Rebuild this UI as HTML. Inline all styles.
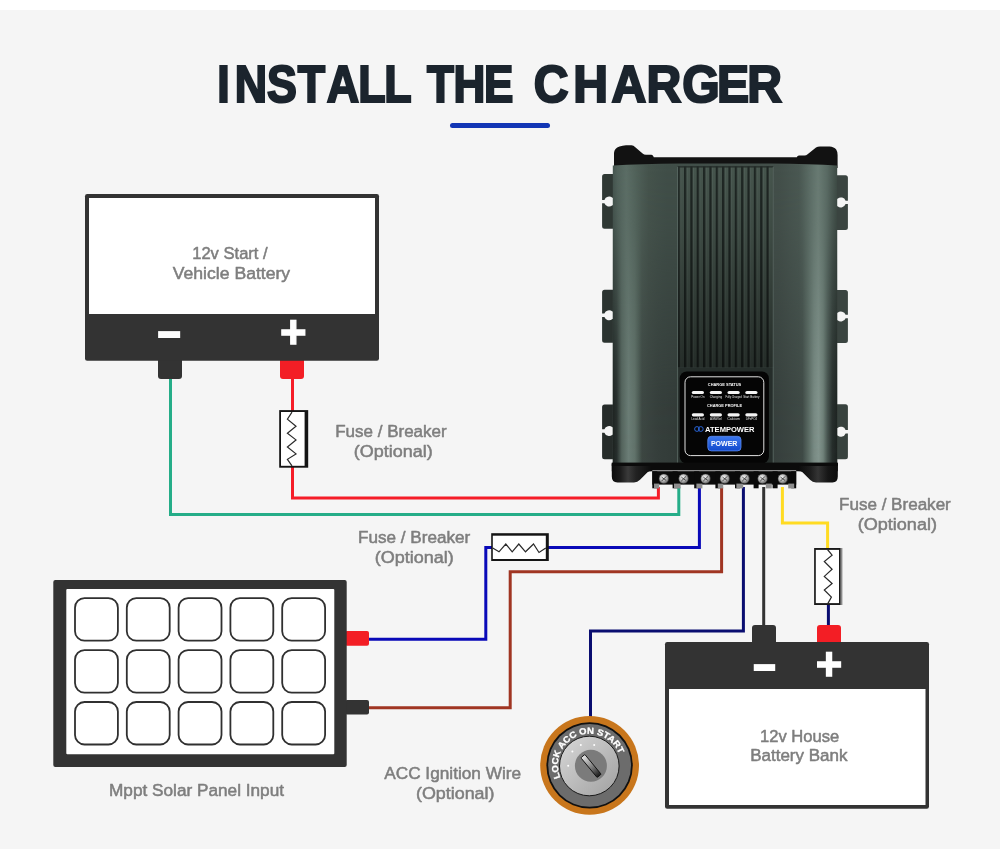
<!DOCTYPE html>
<html lang="en">
<head>
<meta charset="utf-8">
<title>Install the Charger</title>
<style>
html,body{margin:0;padding:0;background:#fff;}
body{width:1000px;height:850px;overflow:hidden;font-family:"Liberation Sans",sans-serif;}
svg{display:block;will-change:transform;}
.lbl{font-family:"Liberation Sans",sans-serif;font-size:16.3px;fill:#7e7e7e;stroke:#7e7e7e;stroke-width:0.5;stroke-linejoin:round;}
.ttl{font-family:"Liberation Sans",sans-serif;font-weight:bold;font-size:51.8px;fill:#1b242d;stroke:#1b242d;stroke-width:2.2;stroke-linejoin:miter;stroke-miterlimit:2.5;}
.sym{font-family:"Liberation Sans",sans-serif;font-weight:bold;fill:#fff;stroke:#fff;stroke-linejoin:miter;}
.w{fill:none;stroke-width:3;stroke-linejoin:miter;}
</style>
</head>
<body>
<svg width="1000" height="850" viewBox="0 0 1000 850">
<defs>
<linearGradient id="bodyH" x1="612.8" y1="0" x2="837.2" y2="0" gradientUnits="userSpaceOnUse">
<stop offset="0" stop-color="#465650"/>
<stop offset="0.02" stop-color="#51625b"/>
<stop offset="0.06" stop-color="#5b6d65"/>
<stop offset="0.1" stop-color="#51625a"/>
<stop offset="0.16" stop-color="#45534c"/>
<stop offset="0.24" stop-color="#404e48"/>
<stop offset="0.74" stop-color="#434f4a"/>
<stop offset="0.83" stop-color="#4a5852"/>
<stop offset="0.875" stop-color="#5a6b64"/>
<stop offset="0.915" stop-color="#687a72"/>
<stop offset="0.955" stop-color="#596a63"/>
<stop offset="1" stop-color="#3e4b45"/>
</linearGradient>
<linearGradient id="bodyH2" x1="612.8" y1="0" x2="837.2" y2="0" gradientUnits="userSpaceOnUse">
<stop offset="0" stop-color="#1c2220"/>
<stop offset="0.018" stop-color="#262d2b"/>
<stop offset="0.04" stop-color="#54645d"/>
<stop offset="0.07" stop-color="#6b7d76"/>
<stop offset="0.098" stop-color="#61726a"/>
<stop offset="0.115" stop-color="#4d5c55"/>
<stop offset="0.13" stop-color="#3c4642"/>
<stop offset="0.2" stop-color="#353e3b"/>
<stop offset="0.28" stop-color="#323b38"/>
<stop offset="0.72" stop-color="#363f3c"/>
<stop offset="0.845" stop-color="#3e4945"/>
<stop offset="0.872" stop-color="#5a6a63"/>
<stop offset="0.897" stop-color="#788a83"/>
<stop offset="0.917" stop-color="#82948d"/>
<stop offset="0.937" stop-color="#70827a"/>
<stop offset="0.957" stop-color="#46534e"/>
<stop offset="0.978" stop-color="#262d2b"/>
<stop offset="1" stop-color="#1c2220"/>
</linearGradient>
<linearGradient id="fadeV" x1="0" y1="164.5" x2="0" y2="464.5" gradientUnits="userSpaceOnUse">
<stop offset="0" stop-color="#fff" stop-opacity="0"/>
<stop offset="0.2" stop-color="#fff" stop-opacity="0.12"/>
<stop offset="0.5" stop-color="#fff" stop-opacity="0.55"/>
<stop offset="0.8" stop-color="#fff" stop-opacity="0.95"/>
<stop offset="1" stop-color="#fff" stop-opacity="1"/>
</linearGradient>
<mask id="mFade" maskUnits="userSpaceOnUse" x="590" y="140" width="270" height="360">
<rect x="590" y="140" width="270" height="360" fill="url(#fadeV)"/>
</mask>
<linearGradient id="ribV" x1="0" y1="164.5" x2="0" y2="368" gradientUnits="userSpaceOnUse">
<stop offset="0" stop-color="#000" stop-opacity="0"/>
<stop offset="0.35" stop-color="#000" stop-opacity="0.14"/>
<stop offset="1" stop-color="#000" stop-opacity="0.48"/>
</linearGradient>
<pattern id="ribs" x="677.6" y="0" width="6.35" height="10" patternUnits="userSpaceOnUse">
<rect x="0" y="0" width="6.35" height="10" fill="#46554d"/>
<rect x="0" y="0" width="2.5" height="10" fill="#1f2724"/>
<rect x="2.5" y="0" width="0.8" height="10" fill="#54645c"/>
</pattern>
<linearGradient id="footL" x1="612" y1="0" x2="652" y2="0" gradientUnits="userSpaceOnUse">
<stop offset="0" stop-color="#0c0c0c"/>
<stop offset="0.2" stop-color="#1a1a1a"/>
<stop offset="0.4" stop-color="#3a3a3a"/>
<stop offset="0.6" stop-color="#222"/>
<stop offset="1" stop-color="#0a0a0a"/>
</linearGradient>
<linearGradient id="footR" x1="838" y1="0" x2="798" y2="0" gradientUnits="userSpaceOnUse">
<stop offset="0" stop-color="#0c0c0c"/>
<stop offset="0.25" stop-color="#161616"/>
<stop offset="0.5" stop-color="#343434"/>
<stop offset="0.7" stop-color="#1c1c1c"/>
<stop offset="1" stop-color="#0a0a0a"/>
</linearGradient>
<linearGradient id="pbtn" x1="0" y1="0" x2="0" y2="1">
<stop offset="0" stop-color="#3d78ee"/>
<stop offset="1" stop-color="#1048cc"/>
</linearGradient>
<radialGradient id="screw" cx="0.4" cy="0.35" r="0.7">
<stop offset="0" stop-color="#f4f4f4"/>
<stop offset="0.55" stop-color="#b0b0b0"/>
<stop offset="1" stop-color="#555"/>
</radialGradient>
<linearGradient id="ignIn" x1="0" y1="0" x2="1" y2="1">
<stop offset="0" stop-color="#d8d8d8"/>
<stop offset="1" stop-color="#a0a0a0"/>
</linearGradient>
<linearGradient id="keyG" x1="0" y1="0" x2="0" y2="1">
<stop offset="0" stop-color="#e6e6e6"/>
<stop offset="0.5" stop-color="#888"/>
<stop offset="1" stop-color="#1a1a1a"/>
</linearGradient>
<path id="ignArc" d="M560.41,777.69 A31.6,31.6 0 1 1 619.10,754.28"/>
</defs>
<rect x="0" y="0" width="1000" height="850" fill="#fff"/>
<rect x="0" y="10" width="1000" height="839" fill="#f5f5f5"/>
<g id="title">
<text class="ttl" transform="scale(0.865,1)" y="102" x="251.05 271.48 308.63 344.28 377.78 414.06 444.34">INSTALL</text>
<text class="ttl" transform="scale(0.85,1)" y="102" x="502.23 533.58 569.31">THE</text>
<text class="ttl" transform="scale(0.93,1)" y="102" x="573.95 616.52 657.46 695.15 733.64 770.85 803.51">CHARGER</text>
<rect x="450" y="123" width="100" height="5" rx="2.5" fill="#1236b5"/>
</g>
<g id="wires">
<path class="w" stroke="#25ad88" d="M170.5,378 V514.5 H678.8 V487"/>
<path class="w" stroke="#f51d28" d="M292.5,378 V412 M292.5,466 V498 H658.4 V487"/>
<path class="w" stroke="#0909b8" d="M367,639.3 H485.8 V547.5 H493 M547,547.5 H699.4 V487"/>
<path class="w" stroke="#a03522" d="M367,707.8 H510.2 V571.8 H721.6 V487"/>
<path class="w" stroke="#090d70" d="M590.5,720 V631 H743.4 V487"/>
<path class="w" stroke="#333" d="M763.7,487 V626"/>
<path class="w" stroke="#ffdb22" d="M782.4,487 V523 H827.6 V549"/>
<path class="w" stroke="#090d70" d="M828.4,604 V626"/>
</g>
<g id="bat1">
<rect x="158" y="355" width="24" height="24" rx="3" fill="#333"/>
<rect x="280" y="355" width="24" height="24" rx="3" fill="#f31e25"/>
<rect x="85" y="194" width="294" height="166.8" rx="2.2" fill="#333"/>
<rect x="89" y="198" width="286" height="116" fill="#fff"/>
<text class="sym" transform="translate(169.2,335.1) scale(1.518,1)" x="-9.48" y="14.80" font-size="57.08" stroke-width="0">-</text>
<text class="sym" x="279.88" y="347.73" font-size="45.5" stroke-width="1.3">+</text>
</g>
<g id="bat2">
<rect x="752" y="625" width="24" height="24" rx="3" fill="#333"/>
<rect x="817" y="625" width="24" height="24" rx="3" fill="#f31e25"/>
<rect x="665" y="642" width="264" height="166.8" rx="2.2" fill="#333"/>
<rect x="669" y="689" width="256.5" height="116" fill="#fff"/>
<text class="sym" transform="translate(764.5,667.75) scale(1.455,1)" x="-9.61" y="15.02" font-size="57.91" stroke-width="0">-</text>
<text class="sym" x="815.78" y="680.33" font-size="45.5" stroke-width="1.3">+</text>
</g>
<g id="fuses">
<rect x="279.2" y="410.1" width="29" height="57.6" fill="#151515"/>
<rect x="281" y="412" width="23.6" height="53.8" fill="#fff"/>
<path d="M292,412.1 L287.4,419.2 L296,426.3 L287.4,433.2 L296,439.9 L287.4,447 L296,453.9 L287.4,459.3 L292,465.8" fill="none" stroke="#2a2a2a" stroke-width="1.2" stroke-linejoin="miter"/>
<rect x="491.2" y="533.2" width="57.6" height="27.8" fill="#151515"/>
<rect x="492.8" y="535.7" width="53" height="23.3" fill="#fff"/>
<path d="M492.7,548 L499,551.8 L505.8,544 L512.2,551.8 L518.8,544 L525.5,551.8 L533.5,544 L539,552.5 L545.8,548" fill="none" stroke="#2a2a2a" stroke-width="1.2" stroke-linejoin="miter"/>
<rect x="814.2" y="548" width="28.2" height="57" fill="#8a8a8a"/>
<rect x="814.2" y="548" width="26.2" height="57" fill="#1a1a1a"/>
<rect x="815.8" y="549.9" width="23.2" height="53.2" fill="#fff"/>
<path d="M827.5,549.5 L832.1,555.1 L824.3,561.5 L832.1,569.3 L824.3,576.4 L832.1,583.5 L824.3,590 L831.4,597.1 L827.8,603.6" fill="none" stroke="#2a2a2a" stroke-width="1.2" stroke-linejoin="miter"/>
</g>
<g id="labels">
<text class="lbl" x="335.2" y="437.3" textLength="111.5" lengthAdjust="spacingAndGlyphs">Fuse / Breaker</text>
<text class="lbl" x="353.8" y="456.6" textLength="78.9" lengthAdjust="spacingAndGlyphs">(Optional)</text>
<text class="lbl" x="358.0" y="543.3" textLength="112.2" lengthAdjust="spacingAndGlyphs">Fuse / Breaker</text>
<text class="lbl" x="374.7" y="563.0" textLength="79.0" lengthAdjust="spacingAndGlyphs">(Optional)</text>
<text class="lbl" x="839.0" y="509.8" textLength="111.8" lengthAdjust="spacingAndGlyphs">Fuse / Breaker</text>
<text class="lbl" x="857.7" y="530.0" textLength="79.3" lengthAdjust="spacingAndGlyphs">(Optional)</text>
<text class="lbl" x="384.2" y="779.0" textLength="137.0" lengthAdjust="spacingAndGlyphs">ACC Ignition Wire</text>
<text class="lbl" x="416.0" y="798.5" textLength="78.5" lengthAdjust="spacingAndGlyphs">(Optional)</text>
<text class="lbl" x="109.0" y="796.3" textLength="175.0" lengthAdjust="spacingAndGlyphs">Mppt Solar Panel Input</text>
<text class="lbl" x="192.2" y="259.0" textLength="75.5" lengthAdjust="spacingAndGlyphs">12v Start /</text>
<text class="lbl" x="172.7" y="278.8" textLength="117.5" lengthAdjust="spacingAndGlyphs">Vehicle Battery</text>
<text class="lbl" x="760.0" y="741.7" textLength="79.2" lengthAdjust="spacingAndGlyphs">12v House</text>
<text class="lbl" x="750.2" y="761.2" textLength="97.3" lengthAdjust="spacingAndGlyphs">Battery Bank</text>
</g>
<g id="solar">
<rect x="345" y="631" width="24" height="14.7" rx="2" fill="#f31e25"/>
<rect x="345" y="700" width="24" height="14.6" rx="2" fill="#333"/>
<rect x="53.3" y="580" width="293.4" height="187" rx="2" fill="#333"/>
<rect x="66.3" y="589" width="268" height="165.3" rx="1" fill="#fff"/>
<g fill="#fff" stroke="#303030" stroke-width="1.8">
<rect x="75.0" y="598.2" width="42.9" height="42.5" rx="9.5"/>
<rect x="126.8" y="598.2" width="42.9" height="42.5" rx="9.5"/>
<rect x="178.6" y="598.2" width="42.9" height="42.5" rx="9.5"/>
<rect x="230.4" y="598.2" width="42.9" height="42.5" rx="9.5"/>
<rect x="282.2" y="598.2" width="42.9" height="42.5" rx="9.5"/>
<rect x="75.0" y="650.1" width="42.9" height="42.5" rx="9.5"/>
<rect x="126.8" y="650.1" width="42.9" height="42.5" rx="9.5"/>
<rect x="178.6" y="650.1" width="42.9" height="42.5" rx="9.5"/>
<rect x="230.4" y="650.1" width="42.9" height="42.5" rx="9.5"/>
<rect x="282.2" y="650.1" width="42.9" height="42.5" rx="9.5"/>
<rect x="75.0" y="702.0" width="42.9" height="42.5" rx="9.5"/>
<rect x="126.8" y="702.0" width="42.9" height="42.5" rx="9.5"/>
<rect x="178.6" y="702.0" width="42.9" height="42.5" rx="9.5"/>
<rect x="230.4" y="702.0" width="42.9" height="42.5" rx="9.5"/>
<rect x="282.2" y="702.0" width="42.9" height="42.5" rx="9.5"/>
</g>
</g>
<g id="charger">
<path fill="#2f3834" d="M614.3,174 H604.5999999999999 Q602.0999999999999,174 602.0999999999999,176.5 V199.9 H604.40 A5.0,5.0 0 0 1 612.40,197.85 H614.3 Z M614.3,228.8 H604.5999999999999 Q602.0999999999999,228.8 602.0999999999999,226.3 V203.29999999999998 H604.40 A5.0,5.0 0 0 0 612.40,205.35 H614.3 Z"/>
<path fill="#2b3330" d="M614.3,289.8 H604.5999999999999 Q602.0999999999999,289.8 602.0999999999999,292.3 V313.6 H604.40 A5.0,5.0 0 0 1 612.40,311.55 H614.3 Z M614.3,342.7 H604.5999999999999 Q602.0999999999999,342.7 602.0999999999999,340.2 V317.0 H604.40 A5.0,5.0 0 0 0 612.40,319.05 H614.3 Z"/>
<path fill="#262c2a" d="M614.3,404.4 H604.5999999999999 Q602.0999999999999,404.4 602.0999999999999,406.9 V429.3 H604.40 A5.0,5.0 0 0 1 612.40,427.25 H614.3 Z M614.3,459.2 H604.5999999999999 Q602.0999999999999,459.2 602.0999999999999,456.7 V432.7 H604.40 A5.0,5.0 0 0 0 612.40,434.75 H614.3 Z"/>
<path fill="#3a4440" d="M835.7,175.2 H845.4000000000001 Q847.9000000000001,175.2 847.9000000000001,177.7 V200.70000000000002 H845.60 A5.0,5.0 0 0 0 837.60,198.65 H835.7 Z M835.7,230 H845.4000000000001 Q847.9000000000001,230 847.9000000000001,227.5 V204.1 H845.60 A5.0,5.0 0 0 1 837.60,206.15 H835.7 Z"/>
<path fill="#3a4440" d="M835.7,290 H845.4000000000001 Q847.9000000000001,290 847.9000000000001,292.5 V314.8 H845.60 A5.0,5.0 0 0 0 837.60,312.75 H835.7 Z M835.7,343 H845.4000000000001 Q847.9000000000001,343 847.9000000000001,340.5 V318.2 H845.60 A5.0,5.0 0 0 1 837.60,320.25 H835.7 Z"/>
<path fill="#38423e" d="M835.7,404.2 H845.4000000000001 Q847.9000000000001,404.2 847.9000000000001,406.7 V430.0 H845.60 A5.0,5.0 0 0 0 837.60,427.95 H835.7 Z M835.7,459.2 H845.4000000000001 Q847.9000000000001,459.2 847.9000000000001,456.7 V433.4 H845.60 A5.0,5.0 0 0 1 837.60,435.45 H835.7 Z"/>
<path fill="#121212" d="M614,168 V153 Q614.3,148.2 619.5,146.6 Q622.5,145.4 626,145.3 H631.5 Q633.6,145.4 635,147 L642.6,153.6 Q643.9,154.8 646,154.8 H651.5 Q653.2,154.9 653.8,157.3 H796.8 Q797.4,155.5 799,155.4 H804.5 Q806.3,155.4 807.6,154.2 L816,147.6 Q817.6,146.4 820,146.4 H829.5 Q834,146.6 836.2,149.6 Q837.6,151.8 837.6,155 V168 Z"/>
<path fill="url(#bodyH)" d="M612.8,165.6 Q640,163.9 680,163.6 H771 Q811,163.9 837.2,165.6 V464.5 H612.8 Z"/>
<path fill="url(#bodyH2)" mask="url(#mFade)" d="M612.8,165.6 Q640,163.9 680,163.6 H771 Q811,163.9 837.2,165.6 V464.5 H612.8 Z"/>
<rect x="677.6" y="166.4" width="95.60000000000002" height="201.2" rx="1.2" fill="url(#ribs)"/>
<rect x="677.6" y="166.4" width="95.60000000000002" height="201.2" rx="1.2" fill="url(#ribV)"/>
<rect x="677.6" y="166.2" width="95.60000000000002" height="1.3" rx="0.6" fill="#222a27"/>
<rect x="677.6" y="367.5" width="95.60000000000002" height="97" fill="#252d2a"/>
<rect x="677.1" y="167" width="1" height="297.5" fill="#62726b" opacity="0.75"/>
<rect x="772.7" y="167" width="1" height="297.5" fill="#62726b" opacity="0.75"/>
<rect x="679.7" y="371.5" width="89.2" height="92" rx="7" fill="#050505"/>
<rect x="685" y="376.8" width="78.8" height="78.8" rx="5.5" fill="#050505" stroke="#e2e2e2" stroke-width="1"/>
<g font-family="Liberation Sans, sans-serif" fill="#fff" text-anchor="middle">
<text x="724.5" y="386.1" font-size="4.4" font-weight="bold" textLength="33.4" lengthAdjust="spacingAndGlyphs">CHARGE STATUS</text>
<text x="724.5" y="407.2" font-size="4.4" font-weight="bold" textLength="35" lengthAdjust="spacingAndGlyphs">CHARGE PROFILE</text>
<rect x="691.8" y="390.9" width="12.2" height="3.2" rx="1.6" fill="#f4f4f4"/>
<rect x="691.8" y="413.2" width="12.2" height="3.2" rx="1.6" fill="#f4f4f4"/>
<text x="697.9" y="397.9" font-size="3.1" fill="#e4e4e4" textLength="13.3" lengthAdjust="spacingAndGlyphs">Power On</text>
<text x="697.9" y="419.9" font-size="3.1" fill="#e4e4e4" textLength="12.9" lengthAdjust="spacingAndGlyphs">Lead Acid</text>
<rect x="709.8" y="390.9" width="12.2" height="3.2" rx="1.6" fill="#f4f4f4"/>
<rect x="709.8" y="413.2" width="12.2" height="3.2" rx="1.6" fill="#f4f4f4"/>
<text x="715.9" y="397.9" font-size="3.1" fill="#e4e4e4" textLength="12.5" lengthAdjust="spacingAndGlyphs">Charging</text>
<text x="715.9" y="419.9" font-size="3.1" fill="#e4e4e4" textLength="12.0" lengthAdjust="spacingAndGlyphs">AGM/Gel</text>
<rect x="727.5" y="390.9" width="12.2" height="3.2" rx="1.6" fill="#f4f4f4"/>
<rect x="727.5" y="413.2" width="12.2" height="3.2" rx="1.6" fill="#f4f4f4"/>
<text x="733.6" y="397.9" font-size="3.1" fill="#e4e4e4" textLength="16.4" lengthAdjust="spacingAndGlyphs">Fully Charged</text>
<text x="733.6" y="419.9" font-size="3.1" fill="#e4e4e4" textLength="12.9" lengthAdjust="spacingAndGlyphs">Calcium</text>
<rect x="745.3" y="390.9" width="12.2" height="3.2" rx="1.6" fill="#f4f4f4"/>
<rect x="745.3" y="413.2" width="12.2" height="3.2" rx="1.6" fill="#f4f4f4"/>
<text x="751.4" y="397.9" font-size="3.1" fill="#e4e4e4" textLength="16.4" lengthAdjust="spacingAndGlyphs">Start Battery</text>
<text x="751.4" y="419.9" font-size="3.1" fill="#e4e4e4" textLength="11.3" lengthAdjust="spacingAndGlyphs">LiFePO4</text>
<text x="729.8" y="431.5" font-size="6.6" font-weight="bold" textLength="49.5" lengthAdjust="spacingAndGlyphs">ATEMPOWER</text>
</g>
<g fill="none" stroke="#2a6be6" stroke-width="0.9"><circle cx="697" cy="429" r="2.4"/><circle cx="700.8" cy="429" r="2.4"/></g>
<rect x="707.8" y="436.3" width="33.2" height="14.6" rx="3.5" fill="url(#pbtn)" stroke="#5d8df0" stroke-width="0.8"/>
<text x="724.2" y="445.9" font-family="Liberation Sans, sans-serif" font-size="6.4" font-weight="bold" fill="#fff" text-anchor="middle" textLength="26.5" lengthAdjust="spacingAndGlyphs">POWER</text>
<path fill="#0b0b0b" d="M611.8,463 H837.8000000000001 V471.2 H611.8 Z"/>
<path fill="url(#footL)" d="M611.8,464 H652 V471 Q649,471 647.5,472.2 L640,479.8 Q637.5,482.4 634,482.4 H617.5 Q611.8,482.4 611.8,476.5 Z"/>
<path fill="url(#footR)" d="M837.8000000000001,464 H798 V471 Q801,471 802.5,472.2 L810,479.8 Q812.5,482.4 816,482.4 H832.5 Q837.8000000000001,482.4 837.8000000000001,476.5 Z"/>
<rect x="611.8" y="462.6" width="226.00000000000009" height="3.4" fill="#0b0b0b"/>
<rect x="652.3" y="470.6" width="143.9" height="14" fill="#0a0a0a"/>
<rect x="652.3" y="470.3" width="143.9" height="0.9" fill="#c8c8c8"/>
<rect x="652.3" y="471.3" width="5" height="17" fill="#0a0a0a"/>
<rect x="672.6" y="471.3" width="5" height="17" fill="#0a0a0a"/>
<rect x="694.2" y="471.3" width="5" height="17" fill="#0a0a0a"/>
<rect x="715.4" y="471.3" width="5" height="17" fill="#0a0a0a"/>
<rect x="735" y="471.3" width="5" height="17" fill="#0a0a0a"/>
<rect x="753.6" y="471.3" width="5" height="17" fill="#0a0a0a"/>
<rect x="772.6" y="471.3" width="5" height="17" fill="#0a0a0a"/>
<rect x="791.2" y="471.3" width="5" height="17" fill="#0a0a0a"/>
<rect x="654" y="483.6" width="5.2" height="4.8" fill="#8e8e8e"/>
<rect x="674" y="483.6" width="6.6" height="4.8" fill="#8e8e8e"/>
<rect x="696.4" y="483.6" width="6" height="4.8" fill="#8e8e8e"/>
<rect x="717.8" y="483.6" width="5.4" height="4.8" fill="#8e8e8e"/>
<rect x="736.4" y="483.6" width="6.8" height="4.8" fill="#8e8e8e"/>
<rect x="765.8" y="483.6" width="6" height="4.8" fill="#8e8e8e"/>
<rect x="788.2" y="483.6" width="6" height="4.8" fill="#8e8e8e"/>
<circle cx="663.9" cy="478.8" r="4.9" fill="url(#screw)" stroke="#222" stroke-width="0.5"/>
<path d="M661.5,481.2 L666.3,476.40000000000003 M661.6999999999999,477.2 L666.1,480.40000000000003" stroke="#3a3a3a" stroke-width="0.9"/>
<circle cx="683.6" cy="478.8" r="4.9" fill="url(#screw)" stroke="#222" stroke-width="0.5"/>
<path d="M681.2,481.2 L686.0,476.40000000000003 M681.4,477.2 L685.8000000000001,480.40000000000003" stroke="#3a3a3a" stroke-width="0.9"/>
<circle cx="705.6" cy="478.8" r="4.9" fill="url(#screw)" stroke="#222" stroke-width="0.5"/>
<path d="M703.2,481.2 L708.0,476.40000000000003 M703.4,477.2 L707.8000000000001,480.40000000000003" stroke="#3a3a3a" stroke-width="0.9"/>
<circle cx="724.8" cy="478.8" r="4.9" fill="url(#screw)" stroke="#222" stroke-width="0.5"/>
<path d="M722.4,481.2 L727.1999999999999,476.40000000000003 M722.5999999999999,477.2 L727.0,480.40000000000003" stroke="#3a3a3a" stroke-width="0.9"/>
<circle cx="744.6" cy="478.8" r="4.9" fill="url(#screw)" stroke="#222" stroke-width="0.5"/>
<path d="M742.2,481.2 L747.0,476.40000000000003 M742.4,477.2 L746.8000000000001,480.40000000000003" stroke="#3a3a3a" stroke-width="0.9"/>
<circle cx="762.6" cy="478.8" r="4.9" fill="url(#screw)" stroke="#222" stroke-width="0.5"/>
<path d="M760.2,481.2 L765.0,476.40000000000003 M760.4,477.2 L764.8000000000001,480.40000000000003" stroke="#3a3a3a" stroke-width="0.9"/>
<circle cx="782.8" cy="478.8" r="4.9" fill="url(#screw)" stroke="#222" stroke-width="0.5"/>
<path d="M780.4,481.2 L785.1999999999999,476.40000000000003 M780.5999999999999,477.2 L785.0,480.40000000000003" stroke="#3a3a3a" stroke-width="0.9"/>
</g>
<g id="ign">
<circle cx="589.6" cy="765.4" r="49.4" fill="#c8761c"/>
<circle cx="589.6" cy="765.4" r="43.2" fill="#111"/>
<circle cx="589.6" cy="765.4" r="41.4" fill="#6c6c6c"/>
<circle cx="589.3" cy="766" r="29.8" fill="url(#ignIn)" stroke="#1a1a1a" stroke-width="1"/>
<circle cx="590.9" cy="765.7" r="16" fill="#7b7b7b"/>
<g transform="rotate(-39.5 591 766)"><rect x="588.4" y="753.2" width="5.2" height="25.6" rx="0.8" fill="url(#keyG)" stroke="#111" stroke-width="0.9"/></g>
<g fill="#fff"><circle cx="580.8" cy="745" r="1"/><circle cx="594.2" cy="745" r="1"/><circle cx="572.4" cy="751.6" r="1"/><circle cx="568.2" cy="765.7" r="1"/></g>
<text font-family="Liberation Sans, sans-serif" font-size="8.8" font-weight="bold" fill="#fff" stroke="#fff" stroke-width="0.3"><textPath href="#ignArc" textLength="100.1" lengthAdjust="spacingAndGlyphs">LOCK ACC ON START</textPath></text>
</g>
</svg>
</body>
</html>
